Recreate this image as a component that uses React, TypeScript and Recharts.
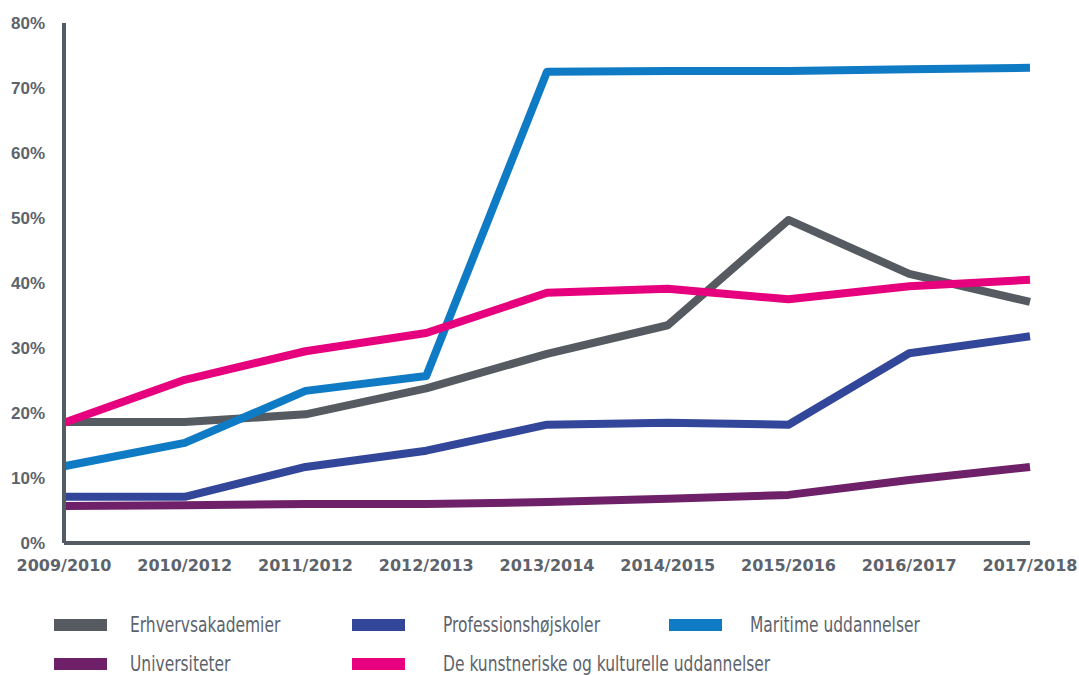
import React from "react";
import { CartesianGrid, Line, LineChart, XAxis, YAxis } from "recharts";

const YEARS = [
  "2009/2010",
  "2010/2012",
  "2011/2012",
  "2012/2013",
  "2013/2014",
  "2014/2015",
  "2015/2016",
  "2016/2017",
  "2017/2018",
];

const ERHVERV = [18.6, 18.6, 19.8, 23.8, 29.1, 33.5, 49.7, 41.4, 37.1];
const PROFESSION = [7.1, 7.1, 11.7, 14.2, 18.2, 18.5, 18.2, 29.2, 31.8];
const MARITIME = [11.8, 15.4, 23.4, 25.7, 72.5, 72.6, 72.6, 72.9, 73.1];
const UNIVERSITET = [5.7, 5.8, 6.0, 6.0, 6.3, 6.8, 7.4, 9.7, 11.7];
const KUNST = [18.5, 25.1, 29.5, 32.3, 38.5, 39.1, 37.5, 39.5, 40.5];

const Y_TICKS = [0, 10, 20, 30, 40, 50, 60, 70, 80];

const AXIS = "#555b62";
const TEXT = "#5d636b";

const SERIES = [
  { key: "erhverv", name: "Erhvervsakademier", color: "#555b61", values: ERHVERV },
  { key: "profession", name: "Professionshøjskoler", color: "#33479a", values: PROFESSION },
  { key: "maritime", name: "Maritime uddannelser", color: "#0f7bc4", values: MARITIME },
  { key: "universitet", name: "Universiteter", color: "#6e2068", values: UNIVERSITET },
  { key: "kunst", name: "De kunstneriske og kulturelle uddannelser", color: "#e6007e", values: KUNST },
];

const data = YEARS.map((year, i) => {
  const row: Record<string, string | number> = { year };
  SERIES.forEach((s) => (row[s.key] = s.values[i]));
  return row;
});

// legend slots: swatch left edge, text left edge, row top
const LEGEND_POS = [
  { left: 54, text: 130, top: 619 },
  { left: 352, text: 443, top: 619 },
  { left: 669, text: 750, top: 619 },
  { left: 54, text: 130, top: 658 },
  { left: 352, text: 443, top: 658 },
];

if (typeof document !== "undefined") document.body.style.margin = "0";

export default function App() {
  return (
    <div style={{ position: "relative", width: 1079, height: 675, background: "#fff", overflow: "hidden" }}>
      <LineChart width={1079} height={580} data={data} margin={{ top: 23, right: 49, bottom: 7, left: 0 }}>
        <CartesianGrid horizontal={false} vertical={false} />
        {SERIES.map((s) => (
          <Line
            key={s.key}
            type="linear"
            dataKey={s.key}
            name={s.name}
            stroke={s.color}
            strokeWidth={8}
            strokeLinejoin="round"
            dot={false}
            activeDot={false}
            isAnimationActive={false}
          />
        ))}
        <XAxis
          dataKey="year"
          height={30}
          axisLine={{ stroke: AXIS, strokeWidth: 4 }}
          tickLine={false}
          tickSize={0}
          tickMargin={17}
          interval={0}
          tick={{ fill: TEXT, fontSize: 16, fontWeight: 700, fontFamily: "DejaVu Sans" }}
        />
        <YAxis
          width={64}
          domain={[0, 80]}
          ticks={Y_TICKS}
          tickFormatter={(v) => `${v}%`}
          axisLine={{ stroke: AXIS, strokeWidth: 4 }}
          tickLine={false}
          tickSize={0}
          tickMargin={19}
          tick={{ fill: TEXT, fontSize: 17, fontWeight: 700, fontFamily: "Liberation Sans, Arial, sans-serif" }}
        />
      </LineChart>
      {SERIES.map((s, i) => (
        <React.Fragment key={s.key}>
          <div
            style={{
              position: "absolute",
              left: LEGEND_POS[i].left,
              top: LEGEND_POS[i].top,
              width: 53,
              height: 12,
              background: s.color,
            }}
          />
          <div
            style={{
              position: "absolute",
              left: LEGEND_POS[i].text,
              top: LEGEND_POS[i].top - 8,
              height: 28,
              lineHeight: "28px",
              fontFamily: "'DejaVu Sans Condensed', sans-serif",
              fontSize: 21,
              color: TEXT,
              whiteSpace: "nowrap",
              transform: "scaleX(0.82)",
              transformOrigin: "left center",
            }}
          >
            {s.name}
          </div>
        </React.Fragment>
      ))}
    </div>
  );
}
